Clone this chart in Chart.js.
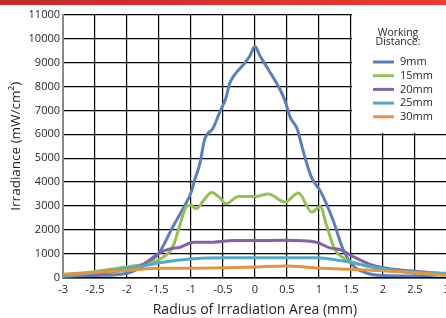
<!DOCTYPE html>
<html><head><meta charset="utf-8">
<script src="https://cdn.jsdelivr.net/npm/chart.js@4/dist/chart.umd.min.js"></script>
<style>
html,body{margin:0;padding:0;background:#fff;overflow:hidden;width:446px;height:318px}
#wrap{position:absolute;left:0;top:0;width:456px;height:318px}
#bar{position:absolute;left:0;top:0;width:446px;height:5px;background:linear-gradient(90deg,#c4282b,#ec3b2c)}
</style></head>
<body>
<div id="wrap"><canvas id="c" width="456" height="318"></canvas></div>
<div id="bar"></div>
<script>
const seriesLabels = ['9mm','15mm','20mm','25mm','30mm'];
const seriesColors = ['#5b7fbd','#95c153','#8462a9','#52a9c8','#e0953e'];
const legendTitle = ['Working','Distance:'];
const xTitle = 'Radius of Irradiation Area (mm)';
const yTitle = 'Irradiance (mW/cm²)';

const x9  = [-3,-2.5,-2,-1.7,-1.5,-1.28,-1.1,-1.0,-0.94,-0.86,-0.79,-0.74,-0.66,-0.55,-0.45,-0.40,-0.33,-0.155,-0.08,0,0.08,0.16,0.39,0.47,0.55,0.66,0.73,0.81,0.89,1.03,1.22,1.38,1.54,1.72,2.0,2.5,3];
const y9  = [30,80,180,550,1030,2140,3000,3550,4100,4780,5750,6020,6230,6930,7550,8100,8450,9000,9280,9680,9280,8930,7890,7410,6720,6230,5540,4780,4160,3590,2410,1170,480,210,80,60,130];
const x15 = [-3,-2.5,-2,-1.75,-1.49,-1.28,-1.18,-1.07,-1.0,-0.92,-0.81,-0.68,-0.55,-0.45,-0.26,0,0.21,0.47,0.68,0.89,1.02,1.12,1.25,1.38,1.64,2.0,2.47,3];
const y15 = [70,250,455,550,760,1310,2140,2970,3030,2880,3200,3560,3350,3090,3390,3390,3500,3160,3540,2740,2980,2180,1170,830,550,340,200,100];
const x20 = [-3,-2.53,-2,-1.75,-1.49,-1.33,-1.17,-0.96,-0.65,-0.34,0,0.48,0.96,1.17,1.35,1.54,1.8,2.0,2.42,3];
const y20 = [50,140,340,550,1030,1200,1270,1480,1480,1550,1550,1560,1480,1240,1150,870,550,410,280,140];
const x25 = [-3,-2.27,-1.75,-1.49,-0.96,-0.44,0,0.96,1.38,1.64,2.0,2.47,3];
const y25 = [30,280,480,620,790,830,830,830,690,550,370,230,180];
const x30 = [-3,-2.53,-2.0,-1.49,-0.96,-0.44,0,0.48,0.96,1.47,2.0,2.47,3];
const y30 = [140,210,300,390,390,410,440,480,400,345,280,210,100];

const xs = [x9,x15,x20,x25,x30];
const ys = [y9,y15,y20,y25,y30];

const FONT = "'Open Sans','Noto Sans',sans-serif";
const TXT = '#231f20';

const datasets = seriesLabels.map((lab,i)=>({
  label: lab,
  data: xs[i].map((xv,j)=>({x:xv,y:ys[i][j]})),
  borderColor: seriesColors[i],
  backgroundColor: seriesColors[i],
  borderWidth: 3,
  pointRadius: 0,
  cubicInterpolationMode: 'monotone',
  fill: false,
  order: 5 - i
}));

const legendPlugin = {
  id: 'inLegend',
  beforeDatasetsDraw(chart){
    const {ctx, scales:{x,y}} = chart;
    const x0 = Math.round(x.getPixelForValue(1.5)) + 1;
    const y1 = Math.round(y.getPixelForValue(6000)) - 1;
    ctx.save();
    ctx.fillStyle = '#fff';
    ctx.fillRect(x0, 0, chart.width - x0, y1);
    ctx.restore();
  },
  afterDatasetsDraw(chart){
    const {ctx} = chart;
    ctx.save();
    ctx.fillStyle = TXT;
    ctx.textBaseline = 'middle';
    ctx.textAlign = 'center';
    ctx.font = "10.5px " + FONT;
    ctx.fillText(legendTitle[0], 398, 33);
    ctx.fillText(legendTitle[1], 398, 42.5);
    ctx.textAlign = 'left';
    ctx.font = "11px " + FONT;
    seriesLabels.forEach((lab,i)=>{
      const yy = 62 + i*13.7;
      ctx.strokeStyle = seriesColors[i];
      ctx.lineWidth = 3;
      ctx.beginPath(); ctx.moveTo(373, yy); ctx.lineTo(394, yy); ctx.stroke();
      ctx.fillText(lab, 400, yy);
    });
    ctx.restore();
  }
};

new Chart(document.getElementById('c'), {
  type: 'line',
  data: { datasets },
  plugins: [legendPlugin],
  options: {
    responsive: false,
    animation: false,
    events: [],
    layout: { padding: { top: 15, right: 0, left: 8, bottom: 0 } },
    plugins: { legend: { display: false }, tooltip: { enabled: false } },
    scales: {
      x: {
        type: 'linear', min: -3, max: 3,
        ticks: { stepSize: 0.5, color: TXT, font: { family: FONT, size: 11 }, padding: 6, maxRotation: 0,
          callback: v => String(v) },
        grid: { color: '#000', lineWidth: 1.2, drawTicks: false },
        border: { color: '#000', width: 1.5 },
        title: { display: true, text: xTitle, color: TXT, font: { family: FONT, size: 14 }, padding: { top: 2, bottom: 0 } },
        afterFit(s){ s.height = 40.5; }
      },
      y: {
        min: 0, max: 11000,
        ticks: { stepSize: 1000, color: TXT, font: { family: FONT, size: 11 }, padding: 3, callback: v => String(v) },
        grid: { color: '#000', lineWidth: 1.2, drawTicks: false },
        border: { color: '#888', width: 2 },
        title: { display: true, text: yTitle, color: TXT, font: { family: FONT, size: 13.5 }, padding: { top: 0, bottom: 2 } },
        afterFit(s){ s.width = 55; }
      }
    }
  }
});
</script>
</body></html>
